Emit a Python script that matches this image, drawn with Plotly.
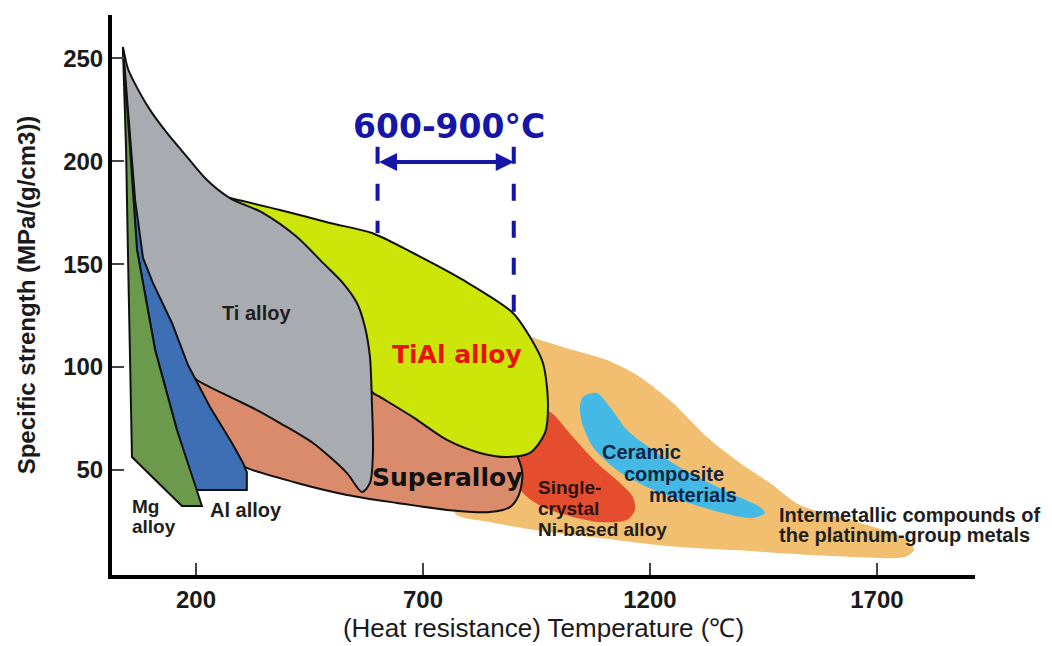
import plotly.graph_objects as go

# ---------------- axes ----------------
X_TICKS = [200, 700, 1200, 1700]
Y_TICKS = [50, 100, 150, 200, 250]
X_RANGE = [15, 1916]
Y_RANGE = [-1, 271]

# ---------------- regions (temperature degC, specific strength) ----------------
# Intermetallic compounds of the platinum-group metals (orange)
pgm_T = [913.6, 957.7, 1030.4, 1105.3, 1177.9, 1250.6, 1325.5, 1398.3, 1464.3, 1530.4, 1640.5,
         1713.2, 1766.1, 1781.5, 1761.7, 1706.6, 1603.1, 1382.8, 1237.4, 1089.8, 957.7, 847.5,
         770.4, 803.5, 870.0]
pgm_V = [115.6, 113.2, 108.3, 103.4, 95.2, 82.5, 66.0, 53.4, 43.7, 33.0, 25.7,
         20.9, 16.0, 11.1, 7.7, 7.3, 8.2, 11.1, 13.1, 17.0, 20.4, 24.7,
         29.1, 50.0, 95.0]

# Single-crystal Ni-based alloy (red)
sx_T = [968.7, 986.3, 1030.4, 1083.2, 1133.9, 1162.5, 1166.9, 1149.3, 1089.8, 1030.4, 968.7, 924.6, 902.6, 909.2]
sx_V = [79.1, 77.2, 66.0, 53.4, 43.7, 36.9, 30.6, 25.7, 24.7, 27.2, 31.5, 37.9, 45.1, 54.9]

# Ceramic composite materials (light blue)
cer_T = [1052.4, 1083.2, 1111.9, 1149.3, 1215.4, 1288.1, 1376.2, 1442.3, 1453.3, 1426.9, 1360.8,
         1266.1, 1193.4, 1127.3, 1074.4, 1050.2, 1045.8]
cer_V = [85.5, 87.4, 80.6, 69.4, 58.3, 48.5, 38.8, 32.0, 29.1, 26.7, 29.1,
         35.4, 41.7, 50.0, 61.2, 72.8, 80.6]

# Superalloy (salmon)
sup_T = [907.0, 918.0, 918.0, 909.2, 891.6, 847.5, 752.9, 642.7, 532.6, 422.5, 312.3, 294.8,
         219.8, 171.4, 318.9, 587.6, 759.4]
sup_V = [57.3, 50.0, 44.2, 36.9, 32.0, 29.6, 30.6, 34.0, 37.9, 43.7, 51.0, 53.4,
         80.6, 99.6, 93.7, 87.9, 74.3]

# TiAl alloy (yellow-green)
tial_T = [274.9, 385.0, 495.1, 587.6, 677.9, 788.1, 898.2, 935.7, 964.3, 975.3, 968.7, 935.7,
          885.0, 825.5, 752.9, 677.9, 605.3, 587.6, 550.8, 451.0, 329.9]
tial_V = [182.1, 176.3, 170.0, 165.1, 155.4, 142.3, 126.3, 114.6, 102.0, 82.5, 68.0, 58.3,
          56.3, 58.3, 64.6, 75.7, 85.5, 87.9, 118.0, 151.0, 175.3]

# Ti alloy (grey)
ti_T = [39.0, 50.0, 61.2, 98.7, 136.1, 180.2, 224.2, 274.9, 348.0, 422.5, 479.7, 523.8, 554.6, 572.2,
        583.2, 587.6, 589.8, 583.2, 565.6, 532.6, 457.7, 385.0, 334.4, 274.9, 202.2, 173.6,
        138.3, 96.5, 70.0, 48.0]
ti_V = [255.5, 245.0, 239.5, 224.9, 213.7, 202.1, 190.9, 182.1, 174.8, 163.2, 150.6, 140.8, 131.1, 119.5,
        104.9, 82.5, 58.3, 43.7, 39.3, 48.5, 63.1, 72.8, 79.1, 85.5, 93.7, 99.6,
        121.4, 140.8, 156.9, 220.0]

# Al alloy (blue)
al_T = [39.0, 55.0, 70.0, 110.0, 158.0, 200.0, 312.0, 312.0, 303.6, 279.3, 230.8, 182.4,
        147.1, 105.3, 83.3, 65.9, 52.4, 41.4]
al_V = [255.0, 205.5, 157.0, 108.3, 69.4, 40.3, 40.3, 49.0, 53.4, 63.1, 80.6, 101.0,
        121.4, 140.8, 153.0, 181.2, 220.0, 249.2]

# Mg alloy (green)
mg_T = [39.0, 46.0, 50.0, 55.0, 59.0, 169.0, 213.0, 198.0, 158.0, 110.0, 70.0, 55.0, 41.0]
mg_V = [255.0, 205.5, 157.0, 108.0, 56.3, 32.5, 32.5, 42.7, 69.4, 108.3, 157.0, 205.5, 249.2]

# ---------------- 600-900 degC window ----------------
window_T = [600, 900]
window_top_V = 207.0
window_bottom_V = [165.1, 126.3]
arrow_V = 199.6
window_label = "600-900°C"
window_label_pos = (757, 217)

# ---------------- region labels ----------------
small_text = ["Ti alloy", "Mg", "alloy", "Al alloy", "Single-", "crystal", "Ni-based alloy",
              "Ceramic", "composite", "materials", "Intermetallic compounds of",
              "the platinum-group metals"]
small_T = [332.2, 54.6, 54.6, 226.4, 950.0, 950.0, 948.0, 1089.8, 1138.7, 1193.4, 1479.7, 1479.7]
small_V = [126.3, 32.3, 22.6, 30.8, 41.5, 31.3, 21.1, 58.7, 48.3, 37.9, 28.1, 18.4]
small_anchor = ["center", "left", "left", "left", "left", "left", "left", "left", "left", "left",
                "left", "left"]
small_color = ["#1e1e1e", "#1e1e1e", "#1e1e1e", "#1e1e1e", "#2a1414", "#2a1414", "#1e1e1e",
               "#0f2540", "#0f2540", "#0f2540", "#1e1e1e", "#1e1e1e"]
small_size = [20, 19, 19, 20, 19, 19, 19, 20, 20, 20, 20, 20]

big_text = ["TiAl alloy", "Superalloy"]
big_T = [774.9, 752.9]
big_V = [105.9, 46.6]
big_color = ["#e8140c", "#111111"]

ARIAL = "Liberation Sans, Arial, sans-serif"
VERD = "DejaVu Sans, Verdana, sans-serif"
BLUE = "#1515a8"

fig = go.Figure()


def region(T, V, fill, outline, shape, close):
    xs, ys = list(T), list(V)
    if close:
        xs.append(xs[0])
        ys.append(ys[0])
    fig.add_trace(go.Scatter(
        x=xs, y=ys, mode="lines", fill="toself", fillcolor=fill,
        line=dict(color=outline if outline else fill, width=2 if outline else 0,
                  shape=shape, smoothing=0.8),
        hoverinfo="skip", showlegend=False))


region(pgm_T, pgm_V, "#f1bf6f", None, "spline", True)
region(sx_T, sx_V, "#e44d2e", None, "spline", True)
region(cer_T, cer_V, "#45b9e6", None, "spline", True)
region(sup_T, sup_V, "#d98b6c", "#111111", "spline", False)
region(tial_T, tial_V, "#cde60a", "#111111", "spline", False)
region(ti_T, ti_V, "#a8abaf", "#111111", "spline", False)
region(al_T, al_V, "#3e6fb5", "#111111", "linear", False)
region(mg_T, mg_V, "#6b9a4c", "#111111", "linear", False)

# dashed window lines
for t, yb in zip(window_T, window_bottom_V):
    fig.add_shape(type="line", xref="x", yref="y", x0=t, x1=t, y0=window_top_V, y1=yb,
                  line=dict(color=BLUE, width=4, dash="17px,20px"), layer="above")

# double arrow
fig.add_annotation(x=window_T[1], y=arrow_V, ax=window_T[0], ay=arrow_V, xref="x", yref="y",
                   axref="x", ayref="y", text="", showarrow=True, arrowside="end+start",
                   arrowhead=2, startarrowhead=2, arrowsize=0.9, startarrowsize=0.9,
                   arrowwidth=4, arrowcolor=BLUE, standoff=0, startstandoff=0)
fig.add_annotation(x=window_label_pos[0], y=window_label_pos[1], xref="x", yref="y",
                   text=window_label, showarrow=False,
                   font=dict(family=VERD, size=33, color=BLUE, weight="bold"))

for txt, t, v, anc, col, sz in zip(small_text, small_T, small_V, small_anchor, small_color, small_size):
    fig.add_annotation(x=t, y=v, xref="x", yref="y", text=txt, showarrow=False,
                       xanchor=anc, yanchor="middle",
                       font=dict(family=ARIAL, size=sz, color=col, weight="bold"))

for txt, t, v, col in zip(big_text, big_T, big_V, big_color):
    fig.add_annotation(x=t, y=v, xref="x", yref="y", text=txt, showarrow=False,
                       font=dict(family=VERD, size=25, color=col, weight="bold"))

fig.update_layout(
    width=1052, height=646, margin=dict(l=112, r=77, t=15, b=71, autoexpand=False),
    plot_bgcolor="white", paper_bgcolor="white", showlegend=False, hovermode=False)

fig.update_xaxes(
    range=X_RANGE, tickvals=X_TICKS, ticks="inside", ticklen=12, tickwidth=1.5, tickcolor="#444",
    showline=True, linewidth=4, linecolor="black", showgrid=False, zeroline=False,
    automargin=False,
    tickfont=dict(family=ARIAL, size=24, color="#1a1a1a", weight="bold"),
    title=dict(text="(Heat resistance) Temperature (℃)", standoff=6,
               font=dict(family=ARIAL, size=26, color="#1a1a1a")))

fig.update_yaxes(
    range=Y_RANGE, tickvals=Y_TICKS, ticks="inside", ticklen=12, tickwidth=1.5, tickcolor="#444",
    showline=True, linewidth=4, linecolor="black", showgrid=False, zeroline=False,
    automargin=False,
    tickfont=dict(family=ARIAL, size=24, color="#1a1a1a", weight="bold"),
    title=dict(text="Specific strength (MPa/(g/cm3))", standoff=22,
               font=dict(family=ARIAL, size=24, color="#1a1a1a", weight="bold")))

fig.write_html(
    "out.html",
    config={"displayModeBar": False, "staticPlot": True},
    post_script="document.body.style.margin='0';document.body.style.overflow='hidden';")
